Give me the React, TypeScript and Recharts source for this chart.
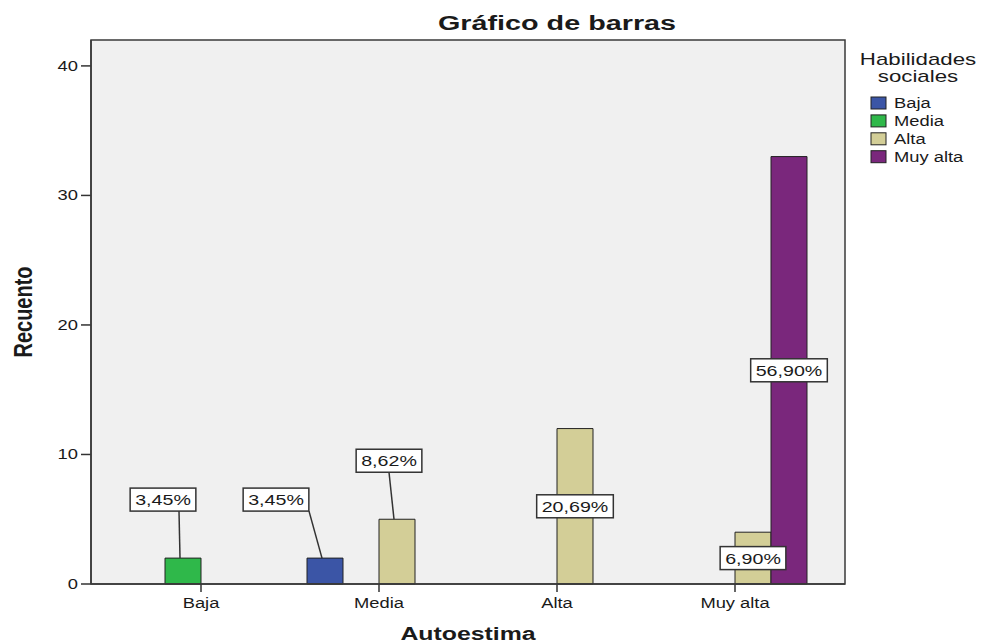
import React from 'react'
import {
  BarChart, Bar, XAxis, YAxis, CartesianGrid, LabelList
} from 'recharts'

// Autoestima categories (x axis) and Habilidades sociales series
const categories = ['Baja', 'Media', 'Alta', 'Muy alta']
const seriesNames = ['Baja', 'Media', 'Alta', 'Muy alta']
const bajaCounts = [0, 2, 0, 0]
const mediaCounts = [2, 0, 0, 0]
const altaCounts = [0, 5, 12, 4]
const muyAltaCounts = [0, 0, 0, 33]
const yTicks = [0, 10, 20, 30, 40]

const seriesColors = ['#3b55a6', '#2fb84a', '#d3ce97', '#7a277c']
const allCounts = [bajaCounts, mediaCounts, altaCounts, muyAltaCounts]
const total = allCounts.flat().reduce((a, b) => a + b, 0)

const data = categories.map((cat, i) => {
  const row: Record<string, any> = { cat }
  allCounts.forEach((arr, s) => {
    row['s' + s] = arr[i] ? arr[i] : null
  })
  return row
})

const FONT = '"Liberation Sans", Arial, Helvetica, sans-serif'
const SX = 1.31 // the source picture is stretched sideways
const INK = '#1a1a1a'

// plot box (follows from chart size and margins below)
const W = 983
const H = 644
const M = { top: 40, right: 138, bottom: 30, left: 51 }
const Y_AXIS_W = 40
const X_AXIS_H = 30
const plotLeft = M.left + Y_AXIS_W
const plotTop = M.top
const plotW = W - M.right - plotLeft
const plotH = H - M.bottom - X_AXIS_H - plotTop

// labels that SPSS moved off the bar, keyed series|category
const leaders: Record<string, { dx: number; lx: number }> = {
  'Media|Baja': { dx: -20, lx: -4 },
  'Baja|Media': { dx: -49, lx: -16 },
  'Alta|Media': { dx: -8, lx: -8 },
}

function SText({ x, y, size, anchor = 'start', bold = false, sx = SX, rotate, children }: any) {
  const t = `translate(${x},${y}) scale(${sx},1)` + (rotate ? ` rotate(${rotate})` : '')
  return (
    <text transform={t} textAnchor={anchor} fontFamily={FONT} fontSize={size}
      fontWeight={bold ? 'bold' : 'normal'} fill={INK}>
      {children}
    </text>
  )
}

function textWidth(s: string, size: number) {
  let w = 0
  for (const ch of s) {
    if (ch === ',') w += 0.278
    else if (ch === '%') w += 0.889
    else w += 0.556
  }
  return w * size
}

function makeLabel(s: number) {
  return (props: any) => {
    const vb = props.viewBox || props
    const { x, y, width, height } = vb
    const value = props.value
    if (!value) return null
    let cat = props.payload && props.payload.cat
    if (!cat) cat = categories[allCounts[s].indexOf(value)]
    const text = ((value / total) * 100).toFixed(2).replace('.', ',') + '%'
    const bw = textWidth(text, 15) * SX + 10
    const bh = 23
    const cx = x + width / 2
    const lead = leaders[`${seriesNames[s]}|${cat}`]
    const bx = lead ? cx + lead.dx : cx
    const by = lead ? y - 47 - bh / 2 : y + height / 2
    return (
      <g>
        {lead && (
          <line x1={cx + lead.lx} y1={by + bh / 2} x2={cx - 3} y2={y} stroke="#333" strokeWidth={1.5} />
        )}
        <rect x={bx - bw / 2} y={by - bh / 2} width={bw} height={bh} fill="#fff" stroke="#333" strokeWidth={1.5} />
        <SText x={bx} y={by + 5.5} anchor="middle" size={15}>{text}</SText>
      </g>
    )
  }
}

const XTick = ({ x, y, payload }: any) => (
  <SText x={x} y={y + 14} anchor="middle" size={14}>{payload.value}</SText>
)

const YTick = ({ x, y, payload }: any) => (
  <SText x={x} y={y + 5} anchor="end" size={14}>{payload.value}</SText>
)

function Overlay() {
  return (
    <svg width={W} height={H} style={{ position: 'absolute', left: 0, top: 0, pointerEvents: 'none' }}>
      <rect x={plotLeft} y={plotTop} width={plotW} height={plotH} fill="none" stroke="#3a3a3a" strokeWidth={1.5} />
      <SText x={557} y={30} anchor="middle" size={21} bold sx={1.37}>Gráfico de barras</SText>
      <g transform="translate(840,40)">
        <SText x={78} y={25} anchor="middle" size={17}>Habilidades</SText>
        <SText x={78} y={42} anchor="middle" size={17}>sociales</SText>
        {seriesNames.map((name, i) => (
          <g key={name}>
            <rect x={31} y={57 + i * 17.9} width={15} height={12} fill={seriesColors[i]} stroke="#222" strokeWidth={1} />
            <SText x={54} y={68 + i * 17.9} size={14}>{name}</SText>
          </g>
        ))}
      </g>
    </svg>
  )
}

export default function App() {
  return (
    <div style={{ position: 'absolute', left: 0, top: 0, width: W, height: H, background: '#fff' }}>
      <BarChart width={W} height={H} data={data} margin={M} barSize={36} barGap={0}>
        <CartesianGrid fill="#f0f0f0" horizontal={false} vertical={false} />
        <XAxis dataKey="cat" padding={{ left: 21, right: 21 }} height={X_AXIS_H}
          tickSize={8} tickMargin={2} tick={XTick}
          axisLine={{ stroke: '#333', strokeWidth: 1.5 }} tickLine={{ stroke: '#333', strokeWidth: 1.5 }}
          label={(p: any) => {
            const vb = p.viewBox
            return <SText x={vb.x + vb.width / 2} y={vb.y + 56} anchor="middle" size={18} bold sx={1.38}>Autoestima</SText>
          }} />
        <YAxis domain={[0, 42]} ticks={yTicks} width={Y_AXIS_W} tickSize={10} tickMargin={3}
          tick={YTick} axisLine={{ stroke: '#333', strokeWidth: 1.5 }}
          tickLine={{ stroke: '#333', strokeWidth: 1.5 }}
          label={(p: any) => {
            const vb = p.viewBox
            return <SText x={vb.x - 19} y={vb.y + vb.height / 2} anchor="middle" size={20} bold sx={1.25} rotate={-90}>Recuento</SText>
          }} />
        {seriesNames.map((name, s) => (
          <Bar key={name} dataKey={'s' + s} name={name} fill={seriesColors[s]}
            stroke="#222" strokeWidth={1} isAnimationActive={false}>
            <LabelList dataKey={'s' + s} content={makeLabel(s)} />
          </Bar>
        ))}
      </BarChart>
      <Overlay />
    </div>
  )
}
